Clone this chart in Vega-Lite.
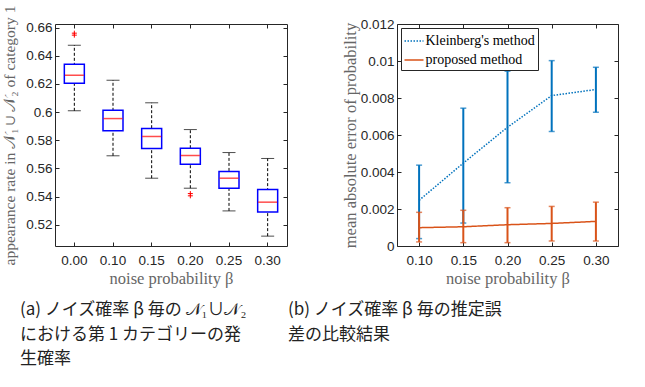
{
  "$schema": "https://vega.github.io/schema/vega-lite/v6.json",
  "background": "white",
  "padding": {"left": 2, "top": 3, "right": 5, "bottom": 5},
  "bounds": "flush",
  "spacing": 110,
  "resolve": {"legend": {"color": "independent", "strokeDash": "independent"}},
  "config": {
    "view": {"stroke": "#262626", "strokeWidth": 1},
    "axis": {
      "domain": false,
      "grid": false,
      "labelFont": "Liberation Sans",
      "labelFontSize": 13.5,
      "labelColor": "#262626",
      "tickColor": "#262626",
      "tickSize": -4,
      "labelPadding": 7,
      "titleFont": "Liberation Serif",
      "titleFontSize": 16.5,
      "titleFontWeight": "normal",
      "titleColor": "#666666"
    },
    "axisBottom": {"labelPadding": 11, "titlePadding": 4},
    "legend": {
      "fillColor": "white",
      "strokeColor": "#262626",
      "padding": 2.5,
      "labelFont": "Liberation Serif",
      "labelFontSize": 14,
      "labelColor": "black",
      "symbolType": "stroke",
      "symbolSize": 361,
      "symbolStrokeWidth": 1.5,
      "labelOffset": 1,
      "rowPadding": 1
    }
  },
  "datasets": {
    "boxes": [
      {"beta": "0.00", "lower": 0.6009, "q1": 0.6205, "median": 0.6262, "q3": 0.634, "upper": 0.6475},
      {"beta": "0.10", "lower": 0.569, "q1": 0.5867, "median": 0.5954, "q3": 0.6013, "upper": 0.6226},
      {"beta": "0.15", "lower": 0.5531, "q1": 0.5742, "median": 0.5827, "q3": 0.5883, "upper": 0.6066},
      {"beta": "0.20", "lower": 0.546, "q1": 0.563, "median": 0.5692, "q3": 0.5744, "upper": 0.5876},
      {"beta": "0.25", "lower": 0.5299, "q1": 0.546, "median": 0.5531, "q3": 0.5578, "upper": 0.5713},
      {"beta": "0.30", "lower": 0.512, "q1": 0.5292, "median": 0.5361, "q3": 0.5451, "upper": 0.5671}
    ],
    "outliers": [
      {"beta": "0.00", "value": 0.656},
      {"beta": "0.00", "value": 0.6546},
      {"beta": "0.20", "value": 0.5422},
      {"beta": "0.20", "value": 0.5406}
    ],
    "errors": [
      {"beta": 0.10, "method": "Kleinberg's method", "mean": 0.00247, "lo": 0.0004, "hi": 0.00437},
      {"beta": 0.15, "method": "Kleinberg's method", "mean": 0.00448, "lo": 0.00124, "hi": 0.00745},
      {"beta": 0.20, "method": "Kleinberg's method", "mean": 0.00642, "lo": 0.00342, "hi": 0.00945},
      {"beta": 0.25, "method": "Kleinberg's method", "mean": 0.00813, "lo": 0.00619, "hi": 0.01002},
      {"beta": 0.30, "method": "Kleinberg's method", "mean": 0.00846, "lo": 0.00723, "hi": 0.00966},
      {"beta": 0.10, "method": "proposed method", "mean": 0.00099, "lo": 0.00022, "hi": 0.00182},
      {"beta": 0.15, "method": "proposed method", "mean": 0.00104, "lo": 0.00018, "hi": 0.00193},
      {"beta": 0.20, "method": "proposed method", "mean": 0.00115, "lo": 0.00018, "hi": 0.00207},
      {"beta": 0.25, "method": "proposed method", "mean": 0.00122, "lo": 0.00027, "hi": 0.00214},
      {"beta": 0.30, "method": "proposed method", "mean": 0.00133, "lo": 0.00027, "hi": 0.00237}
    ]
  },
  "hconcat": [
    {
      "width": 232,
      "height": 222,
      "title": {
        "text": ["(a) ノイズ確率 β 毎の 𝒩₁∪𝒩₂", "における第 1 カテゴリーの発", "生確率"],
        "orient": "bottom",
        "anchor": "start",
        "frame": "group",
        "dx": -35,
        "offset": 15,
        "font": "Noto Sans CJK JP",
        "fontSize": 17,
        "fontWeight": "normal",
        "color": "#222222",
        "lineHeight": 24.5,
        "baseline": "top"
      },
      "data": {"name": "boxes"},
      "resolve": {"axis": {"x": "independent", "y": "independent"}},
      "layer": [
        {
          "mark": {"type": "rule", "color": "black", "strokeDash": [3, 2], "strokeWidth": 1},
          "encoding": {
            "x": {
              "field": "beta",
              "type": "nominal",
              "sort": ["0.00", "0.10", "0.15", "0.20", "0.25", "0.30"],
              "scale": {"type": "band", "paddingInner": 0.48, "paddingOuter": 0.24},
              "axis": {"title": "noise probability β", "labelAngle": 0, "orient": "bottom"}
            },
            "y": {
              "field": "lower",
              "type": "quantitative",
              "scale": {"domain": [0.505, 0.6625], "nice": false, "zero": false},
              "axis": {
                "title": "appearance rate in 𝒩₁ ∪ 𝒩₂ of category 1",
                "titleFontSize": 15.5,
                "titlePadding": 8,
                "values": [0.52, 0.54, 0.56, 0.58, 0.6, 0.62, 0.64, 0.66],
                "format": "~g",
                "orient": "left"
              }
            },
            "y2": {"field": "upper"}
          }
        },
        {
          "mark": {"type": "rule", "opacity": 0},
          "encoding": {
            "x": {"field": "beta", "type": "nominal", "axis": {"orient": "top", "labels": false, "title": null}},
            "y": {"field": "median", "type": "quantitative", "axis": {"orient": "right", "labels": false, "title": null, "values": [0.52, 0.54, 0.56, 0.58, 0.6, 0.62, 0.64, 0.66]}}
          }
        },
        {
          "mark": {"type": "bar", "width": 20, "fill": "white", "stroke": "#0000FF", "strokeWidth": 1.5},
          "encoding": {
            "x": {"field": "beta", "type": "nominal", "axis": null},
            "y": {"field": "q1", "type": "quantitative", "axis": null},
            "y2": {"field": "q3"}
          }
        },
        {
          "mark": {"type": "tick", "color": "black", "size": 13, "thickness": 1, "orient": "horizontal"},
          "encoding": {
            "x": {"field": "beta", "type": "nominal", "axis": null},
            "y": {"field": "upper", "type": "quantitative", "axis": null}
          }
        },
        {
          "mark": {"type": "tick", "color": "black", "size": 13, "thickness": 1, "orient": "horizontal"},
          "encoding": {
            "x": {"field": "beta", "type": "nominal", "axis": null},
            "y": {"field": "lower", "type": "quantitative", "axis": null}
          }
        },
        {
          "mark": {"type": "tick", "color": "#FF0000", "size": 19, "thickness": 1.5, "orient": "horizontal"},
          "encoding": {
            "x": {"field": "beta", "type": "nominal", "axis": null},
            "y": {"field": "median", "type": "quantitative", "axis": null}
          }
        },
        {
          "data": {"name": "outliers"},
          "mark": {"type": "point", "shape": "M-1,0H1M0,-1V1", "filled": false, "stroke": "#FF0000", "strokeWidth": 1, "size": 25, "opacity": 1},
          "encoding": {
            "x": {"field": "beta", "type": "nominal", "axis": null},
            "y": {"field": "value", "type": "quantitative", "axis": null}
          }
        }
      ]
    },
    {
      "width": 221,
      "height": 222,
      "title": {
        "text": ["(b) ノイズ確率 β 毎の推定誤", "差の比較結果"],
        "orient": "bottom",
        "anchor": "start",
        "frame": "group",
        "dx": -109,
        "offset": 15,
        "font": "Noto Sans CJK JP",
        "fontSize": 17,
        "fontWeight": "normal",
        "color": "#222222",
        "lineHeight": 24.5,
        "baseline": "top"
      },
      "data": {"name": "errors"},
      "resolve": {"axis": {"x": "independent", "y": "independent"}},
      "layer": [
        {
          "transform": [{"filter": "datum.method === \"Kleinberg's method\""}],
          "mark": {"type": "rule", "color": "#0072BD", "strokeWidth": 2},
          "encoding": {
            "x": {
              "field": "beta",
              "type": "quantitative",
              "scale": {"domain": [0.075, 0.325], "nice": false, "zero": false},
              "axis": {"title": "noise probability β", "values": [0.1, 0.15, 0.2, 0.25, 0.3], "format": ".2f", "orient": "bottom"}
            },
            "y": {
              "field": "lo",
              "type": "quantitative",
              "scale": {"domain": [0, 0.012], "nice": false},
              "axis": {
                "title": "mean absolute error of probability",
                "titlePadding": 2,
                "values": [0, 0.002, 0.004, 0.006, 0.008, 0.01, 0.012],
                "format": "~g",
                "orient": "left"
              }
            },
            "y2": {"field": "hi"}
          }
        },
        {
          "mark": {"type": "rule", "opacity": 0},
          "encoding": {
            "x": {"field": "beta", "type": "quantitative", "axis": {"orient": "top", "labels": false, "title": null, "values": [0.1, 0.15, 0.2, 0.25, 0.3]}},
            "y": {"field": "mean", "type": "quantitative", "axis": {"orient": "right", "labels": false, "title": null, "values": [0, 0.002, 0.004, 0.006, 0.008, 0.01, 0.012]}}
          }
        },
        {
          "transform": [{"filter": "datum.method === \"Kleinberg's method\""}],
          "mark": {"type": "tick", "color": "#0072BD", "size": 6, "thickness": 1.5, "orient": "horizontal"},
          "encoding": {
            "x": {"field": "beta", "type": "quantitative", "axis": null},
            "y": {"field": "lo", "type": "quantitative", "axis": null}
          }
        },
        {
          "transform": [{"filter": "datum.method === \"Kleinberg's method\""}],
          "mark": {"type": "tick", "color": "#0072BD", "size": 6, "thickness": 1.5, "orient": "horizontal"},
          "encoding": {
            "x": {"field": "beta", "type": "quantitative", "axis": null},
            "y": {"field": "hi", "type": "quantitative", "axis": null}
          }
        },
        {
          "transform": [{"filter": "datum.method === 'proposed method'"}],
          "mark": {"type": "rule", "color": "#D95319", "strokeWidth": 2},
          "encoding": {
            "x": {"field": "beta", "type": "quantitative", "axis": null},
            "y": {"field": "lo", "type": "quantitative", "axis": null},
            "y2": {"field": "hi"}
          }
        },
        {
          "transform": [{"filter": "datum.method === 'proposed method'"}],
          "mark": {"type": "tick", "color": "#D95319", "size": 6, "thickness": 1.5, "orient": "horizontal"},
          "encoding": {
            "x": {"field": "beta", "type": "quantitative", "axis": null},
            "y": {"field": "lo", "type": "quantitative", "axis": null}
          }
        },
        {
          "transform": [{"filter": "datum.method === 'proposed method'"}],
          "mark": {"type": "tick", "color": "#D95319", "size": 6, "thickness": 1.5, "orient": "horizontal"},
          "encoding": {
            "x": {"field": "beta", "type": "quantitative", "axis": null},
            "y": {"field": "hi", "type": "quantitative", "axis": null}
          }
        },
        {
          "mark": {"type": "line", "strokeWidth": 1.5},
          "encoding": {
            "x": {"field": "beta", "type": "quantitative", "axis": null},
            "y": {"field": "mean", "type": "quantitative", "axis": null},
            "color": {
              "field": "method",
              "type": "nominal",
              "scale": {"domain": ["Kleinberg's method", "proposed method"], "range": ["#0072BD", "#D95319"]},
              "legend": {"orient": "none", "legendX": 4, "legendY": 4, "title": null}
            },
            "strokeDash": {
              "field": "method",
              "type": "nominal",
              "scale": {"domain": ["Kleinberg's method", "proposed method"], "range": [[1.5, 1.5], [1, 0]]},
              "legend": {"orient": "none", "legendX": 4, "legendY": 4, "title": null}
            }
          }
        }
      ]
    }
  ]
}
